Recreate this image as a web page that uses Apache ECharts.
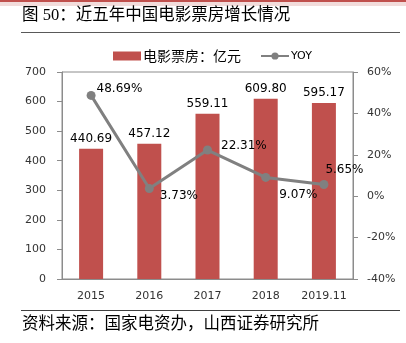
<!DOCTYPE html>
<html><head><meta charset="utf-8">
<script src="https://cdn.jsdelivr.net/npm/echarts@6/dist/echarts.min.js"></script>
<style>html,body{margin:0;padding:0;background:#fff}#c{width:406px;height:343px}</style>
</head><body><div id="c"></div>
<script>
const categories = ['2015','2016','2017','2018','2019.11'];
const boxOffice = [440.69, 457.12, 559.11, 609.80, 595.17];
const yoy = [48.69, 3.73, 22.31, 9.07, 5.65];
const leftTicks = {min:0, max:700, interval:100};
const rightTicks = {min:-40, max:60, interval:20};
const lblOffsets = [[0,-7],[5,7],[8,-4],[8,17],[-4,-15]];

const chart = echarts.init(document.getElementById('c'), null, {renderer:'canvas'});
const axisCol = '#8c8c8c';
const num = 'DejaVu Sans';
chart.setOption({
  animation:false,
  textStyle:{fontFamily:num},
  graphic:[
    {type:'rect', shape:{x:0,y:0,width:406,height:2}, style:{fill:'#c0504d'}},
    {type:'rect', shape:{x:0,y:2,width:406,height:4}, style:{fill:'#f2dcdb'}},
    {type:'text', left:22, top:7, style:{text:'图 50：近五年中国电影票房增长情况', font:'16.5px "Liberation Serif","Noto Sans CJK SC"', fill:'#000'}},
    {type:'line', shape:{x1:21,y1:32.5,x2:400,y2:32.5}, style:{stroke:'#595959', lineWidth:1}},
    {type:'line', shape:{x1:21,y1:310.5,x2:400,y2:310.5}, style:{stroke:'#404040', lineWidth:1}},
    {type:'text', left:22, top:314, style:{text:'资料来源：国家电资办，山西证券研究所', font:'16.5px "Noto Sans CJK SC"', fill:'#000'}}
  ],
  legend:{
    left:108, top:44, itemWidth:28, itemHeight:9, itemGap:19,
    data:[{name:'电影票房：亿元', icon:'rect'}, {name:'YOY'}],
    formatter: n => n==='YOY' ? '{y|'+n+'}' : '{c|'+n+'}',
    textStyle:{color:'#000', padding:[0,0,0,-3], rich:{c:{fontSize:14, fontFamily:'Noto Sans CJK SC'}, y:{fontSize:11, fontFamily:num}}}
  },
  grid:{left:62, right:53, top:72, bottom:64, show:true, borderColor:axisCol, borderWidth:1, backgroundColor:'transparent'},
  xAxis:{
    type:'category', data:categories,
    axisLine:{lineStyle:{color:axisCol}},
    axisTick:{length:5, lineStyle:{color:axisCol}},
    axisLabel:{color:'#333', fontSize:11, margin:12, fontFamily:num, interval:0}
  },
  yAxis:[
    {type:'value', min:leftTicks.min, max:leftTicks.max, interval:leftTicks.interval,
     axisLine:{show:true, lineStyle:{color:axisCol}}, axisTick:{show:true, length:5, lineStyle:{color:axisCol}},
     splitLine:{show:false}, axisLabel:{color:'#333', fontSize:11, margin:16, fontFamily:num}},
    {type:'value', min:rightTicks.min, max:rightTicks.max, interval:rightTicks.interval, position:'right',
     axisLine:{show:true, lineStyle:{color:axisCol}}, axisTick:{show:true, length:5, lineStyle:{color:axisCol}},
     splitLine:{show:false}, axisLabel:{color:'#333', fontSize:11, margin:14, fontFamily:num, formatter:'{value}%'}}
  ],
  series:[
    {name:'电影票房：亿元', type:'bar', data:boxOffice, barWidth:24,
     itemStyle:{color:'#c0504d'},
     label:{show:true, position:'top', distance:4, color:'#000', fontSize:12, fontFamily:num, formatter:p=>p.value.toFixed(2)}},
    {name:'YOY', type:'line', yAxisIndex:1, z:5,
     data: yoy.map((v,i)=>({value:v, label:{offset:lblOffsets[i]}})),
     symbol:'circle', symbolSize:9,
     lineStyle:{color:'#808080', width:3}, itemStyle:{color:'#808080'},
     label:{show:true, position:'right', distance:1, color:'#000', fontSize:12, fontFamily:num, formatter:p=>p.value.toFixed(2)+'%'}}
  ]
});
</script></body></html>
